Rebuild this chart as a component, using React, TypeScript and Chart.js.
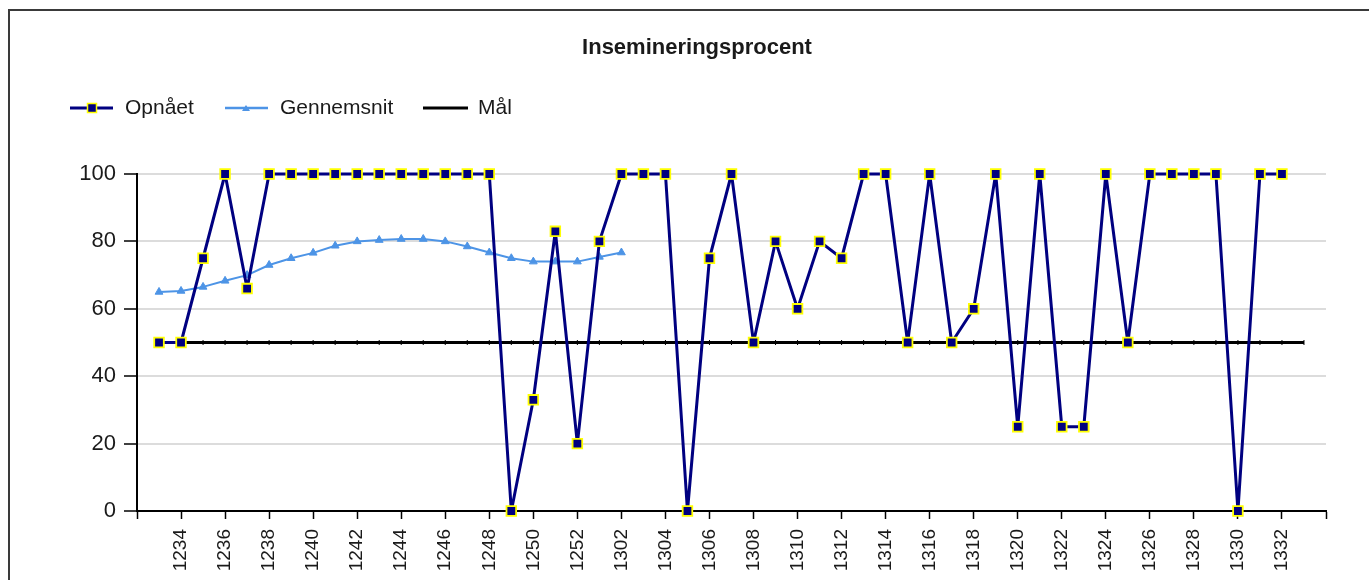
import React, { useEffect, useRef } from 'react';
import { Chart, registerables } from 'chart.js';

Chart.register(...registerables);

const chartTitle = 'Insemineringsprocent';

const weeks = [
  '1233', '1234', '1235', '1236', '1237', '1238', '1239', '1240', '1241', '1242',
  '1243', '1244', '1245', '1246', '1247', '1248', '1249', '1250', '1251', '1252',
  '1301', '1302', '1303', '1304', '1305', '1306', '1307', '1308', '1309', '1310',
  '1311', '1312', '1313', '1314', '1315', '1316', '1317', '1318', '1319', '1320',
  '1321', '1322', '1323', '1324', '1325', '1326', '1327', '1328', '1329', '1330',
  '1331', '1332', '1333',
];

const opnaaet: (number | null)[] = [
  50, 50, 75, 100, 66, 100, 100, 100, 100, 100,
  100, 100, 100, 100, 100, 100, 0, 33, 83, 20,
  80, 100, 100, 100, 0, 75, 100, 50, 80, 60,
  80, 75, 100, 100, 50, 100, 50, 60, 100, 25,
  100, 25, 25, 100, 50, 100, 100, 100, 100, 0,
  100, 100, null,
];

const gennemsnit: (number | null)[] = [
  65, 65.3, 66.5, 68.3, 70, 73, 75, 76.6, 78.7, 80,
  80.4, 80.7, 80.7, 80, 78.5, 76.7, 75, 74, 74, 74,
  75.4, 76.7,
];

const maal: (number | null)[] = [
  50, 50, 50, 50, 50, 50, 50, 50, 50, 50,
  50, 50, 50, 50, 50, 50, 50, 50, 50, 50,
  50, 50, 50, 50, 50, 50, 50, 50, 50, 50,
  50, 50, 50, 50, 50, 50, 50, 50, 50, 50,
  50, 50, 50, 50, 50, 50, 50, 50, 50, 50,
  50, 50, 50,
];

const yTicks = [0, 20, 40, 60, 80, 100];

const seriesNames = ['Opnået', 'Gennemsnit', 'Mål'];

const NAVY = '#000080';
const YELLOW = '#ffff00';
const LIGHTBLUE = '#4d94e6';
const FONT = '"Liberation Sans", Arial, sans-serif';

function pad(arr: (number | null)[]): (number | null)[] {
  const out: (number | null)[] = [null];
  for (let i = 0; i < weeks.length; i++) out.push(i < arr.length ? arr[i] : null);
  out.push(null);
  return out;
}

const headerPlugin = {
  id: 'headerPlugin',
  afterDraw(chart: any) {
    const ctx = chart.ctx as CanvasRenderingContext2D;
    ctx.save();
    ctx.fillStyle = '#1a1a1a';
    ctx.textBaseline = 'middle';
    ctx.font = `bold 22px ${FONT}`;
    ctx.textAlign = 'center';
    ctx.fillText(chartTitle, 687, 37);

    ctx.font = `21px ${FONT}`;
    ctx.textAlign = 'left';
    const ly = 97;
    // Opnået
    ctx.strokeStyle = NAVY;
    ctx.lineWidth = 3;
    ctx.beginPath();
    ctx.moveTo(60, ly);
    ctx.lineTo(103, ly);
    ctx.stroke();
    ctx.fillStyle = NAVY;
    ctx.fillRect(77.5, ly - 4.5, 9, 9);
    ctx.strokeStyle = YELLOW;
    ctx.lineWidth = 1.5;
    ctx.strokeRect(77.5, ly - 4.5, 9, 9);
    ctx.fillStyle = '#1a1a1a';
    ctx.fillText(seriesNames[0], 115, ly);
    // Gennemsnit
    ctx.strokeStyle = LIGHTBLUE;
    ctx.lineWidth = 2.5;
    ctx.beginPath();
    ctx.moveTo(215, ly);
    ctx.lineTo(258, ly);
    ctx.stroke();
    ctx.fillStyle = LIGHTBLUE;
    ctx.beginPath();
    ctx.moveTo(236, ly - 3);
    ctx.lineTo(240, ly + 3);
    ctx.lineTo(232, ly + 3);
    ctx.closePath();
    ctx.fill();
    ctx.fillStyle = '#1a1a1a';
    ctx.fillText(seriesNames[1], 270, ly);
    // Mål
    ctx.strokeStyle = '#000000';
    ctx.lineWidth = 3;
    ctx.beginPath();
    ctx.moveTo(413, ly);
    ctx.lineTo(458, ly);
    ctx.stroke();
    ctx.fillText(seriesNames[2], 468, ly);
    ctx.restore();
  },
};

export default function App() {
  const canvasRef = useRef<HTMLCanvasElement | null>(null);

  useEffect(() => {
    if (!canvasRef.current) return;
    const labels = ['', ...weeks, ''];
    const chart = new Chart(canvasRef.current, {
      type: 'line',
      data: {
        labels,
        datasets: [
          {
            label: seriesNames[0],
            data: pad(opnaaet),
            borderColor: NAVY,
            backgroundColor: NAVY,
            borderWidth: 3,
            borderJoinStyle: 'round',
            pointStyle: 'rect',
            pointRadius: 6.8,
            pointBackgroundColor: NAVY,
            pointBorderColor: YELLOW,
            pointBorderWidth: 1.8,
            tension: 0,
            order: 0,
            clip: false as any,
          },
          {
            label: seriesNames[1],
            data: pad(gennemsnit),
            borderColor: LIGHTBLUE,
            backgroundColor: LIGHTBLUE,
            borderWidth: 2,
            borderJoinStyle: 'round',
            pointStyle: 'triangle',
            pointRadius: 4.5,
            pointBackgroundColor: LIGHTBLUE,
            pointBorderColor: LIGHTBLUE,
            pointBorderWidth: 1,
            tension: 0,
            order: 1,
          },
          {
            label: seriesNames[2],
            data: pad(maal),
            borderColor: '#000000',
            backgroundColor: '#000000',
            borderWidth: 3,
            pointStyle: 'line',
            pointRotation: 90,
            pointRadius: 2.5,
            pointBorderColor: '#000000',
            pointBorderWidth: 1,
            tension: 0,
            order: 2,
          },
        ],
      },
      options: {
        responsive: false,
        animation: false,
        layout: { padding: { top: 163, left: 0, right: 43, bottom: 0 } },
        plugins: {
          legend: { display: false },
          title: { display: false },
          tooltip: { enabled: false },
        },
        scales: {
          x: {
            type: 'category',
            offset: false,
            afterFit: (scale: any) => {
              scale.height = 100;
            },
            grid: {
              display: true,
              drawOnChartArea: false,
              drawTicks: true,
              tickLength: 8,
              tickWidth: 1.5,
              tickColor: (ctx: any) => (ctx.index % 2 === 0 ? '#000000' : 'rgba(0,0,0,0)'),
            },
            border: { display: true, color: '#000000', width: 2 },
            ticks: {
              autoSkip: false,
              minRotation: 90,
              maxRotation: 90,
              padding: 10,
              color: '#1a1a1a',
              font: { family: FONT, size: 19 },
              callback: (_v: any, index: number) => (index % 2 === 0 ? labels[index] : ''),
            },
          },
          y: {
            min: 0,
            max: 100,
            afterFit: (scale: any) => {
              scale.width = 127;
            },
            afterBuildTicks: (scale: any) => {
              scale.ticks = yTicks.map((v) => ({ value: v }));
            },
            grid: {
              color: '#dcdcdc',
              lineWidth: 2,
              tickColor: '#000000',
              tickLength: 13,
              tickWidth: 1.5,
            },
            border: { display: true, color: '#000000', width: 2 },
            ticks: {
              padding: 8,
              color: '#1a1a1a',
              font: { family: FONT, size: 22 },
            },
          },
        },
      },
      plugins: [headerPlugin],
    });
    return () => chart.destroy();
  }, []);

  return (
    <div
      style={{
        position: 'fixed',
        left: 8,
        top: 9,
        width: 1420,
        height: 640,
        borderLeft: '2px solid #3a3a3a',
        borderTop: '2px solid #3a3a3a',
        background: '#ffffff',
      }}
    >
      <canvas
        ref={canvasRef}
        width={1359}
        height={600}
        style={{ position: 'absolute', left: 0, top: 0, width: 1359, height: 600 }}
      />
    </div>
  );
}
